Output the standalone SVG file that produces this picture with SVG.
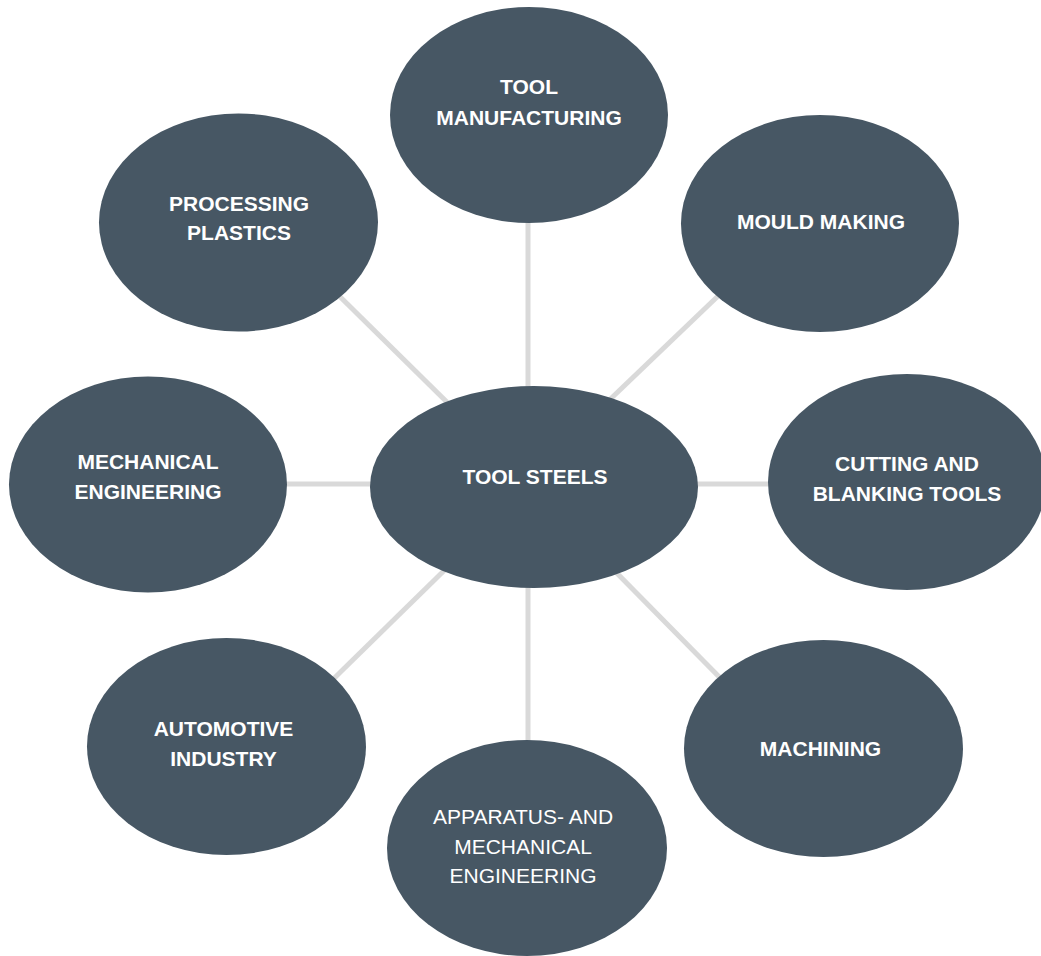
<svg xmlns="http://www.w3.org/2000/svg" width="1041" height="956" viewBox="0 0 1041 956">
  <style>
    .node { fill: #475764; }
    .spoke { stroke: #d9d9d9; stroke-width: 5; fill: none; }
    .lbl { font-family: "Liberation Sans", Arial, Helvetica, sans-serif; font-size: 21px; font-weight: bold; fill: #ffffff; text-anchor: middle; }
    .lbl.reg { font-weight: normal; }
  </style>
  <rect width="1041" height="956" fill="#ffffff"/>

  <!-- spokes radiating from the hub -->
  <g id="connectors">
    <line class="spoke" x1="528" y1="200" x2="528" y2="760"/>
    <line class="spoke" x1="270" y1="484" x2="790" y2="484"/>
    <line class="spoke" x1="320" y1="277" x2="457" y2="412"/>
    <line class="spoke" x1="740" y1="275" x2="600" y2="409"/>
    <line class="spoke" x1="460" y1="555" x2="316" y2="696"/>
    <line class="spoke" x1="600" y1="556" x2="738" y2="696"/>
  </g>

  <g id="tool-manufacturing">
    <ellipse class="node" cx="529" cy="115" rx="139" ry="108"/>
    <text class="lbl" x="529" y="94">TOOL</text>
    <text class="lbl" x="529" y="125">MANUFACTURING</text>
  </g>

  <g id="processing-plastics">
    <ellipse class="node" cx="238.5" cy="222.5" rx="139.5" ry="109"/>
    <text class="lbl" x="239" y="211">PROCESSING</text>
    <text class="lbl" x="239" y="240">PLASTICS</text>
  </g>

  <g id="mould-making">
    <ellipse class="node" cx="820" cy="223.5" rx="139" ry="108.5"/>
    <text class="lbl" x="821" y="229">MOULD MAKING</text>
  </g>

  <g id="mechanical-engineering">
    <ellipse class="node" cx="148" cy="484.5" rx="139" ry="108"/>
    <text class="lbl" x="148" y="469">MECHANICAL</text>
    <text class="lbl" x="148" y="499">ENGINEERING</text>
  </g>

  <g id="tool-steels">
    <ellipse class="node" cx="534" cy="487" rx="164" ry="101"/>
    <text class="lbl" x="535" y="484">TOOL STEELS</text>
  </g>

  <g id="cutting-blanking-tools">
    <ellipse class="node" cx="907" cy="482" rx="139" ry="108"/>
    <text class="lbl" x="907" y="471">CUTTING AND</text>
    <text class="lbl" x="907" y="501">BLANKING TOOLS</text>
  </g>

  <g id="automotive-industry">
    <ellipse class="node" cx="226.5" cy="746.5" rx="139.5" ry="108.5"/>
    <text class="lbl" x="223.5" y="736">AUTOMOTIVE</text>
    <text class="lbl" x="223.5" y="766">INDUSTRY</text>
  </g>

  <g id="machining">
    <ellipse class="node" cx="823.5" cy="748.5" rx="139.5" ry="108.5"/>
    <text class="lbl" x="820.5" y="756">MACHINING</text>
  </g>

  <g id="apparatus-mechanical-engineering">
    <ellipse class="node" cx="527" cy="848" rx="140" ry="108"/>
    <text class="lbl reg" x="523" y="824">APPARATUS- AND</text>
    <text class="lbl reg" x="523" y="854">MECHANICAL</text>
    <text class="lbl reg" x="523" y="883">ENGINEERING</text>
  </g>
</svg>
